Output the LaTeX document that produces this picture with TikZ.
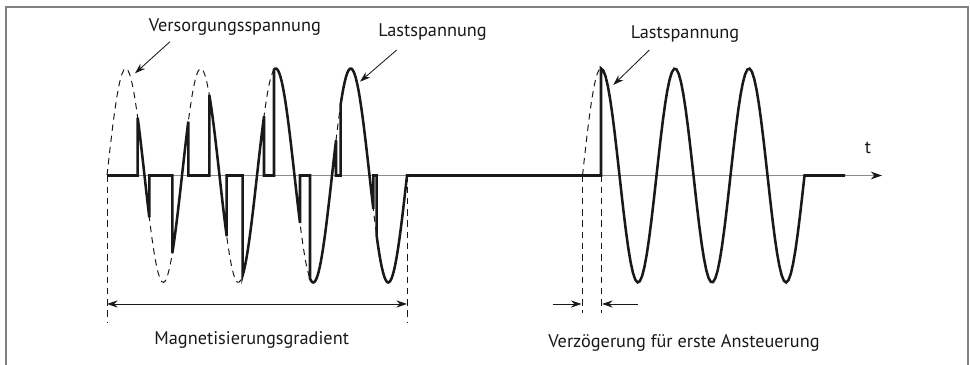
\documentclass[tikz,border=0pt]{standalone}
\usepackage{fontspec}
\setmainfont{PT Sans}
\usetikzlibrary{arrows.meta}
\definecolor{ink}{gray}{0.10}
\definecolor{soft}{gray}{0.55}
\definecolor{rim}{gray}{0.50}

\tikzset{
  declare function={mains(\t)=107*sin(4.8*\t);
                    late(\t)=107*sin(4.86486*(\t-475.5));},
  load/.style={ink,line width=1.8pt},
  supply/.style={ink,line width=0.7pt,dash pattern=on 4.5pt off 3.5pt},
  guide/.style={ink,line width=0.7pt,dash pattern=on 4.5pt off 3.5pt},
  dimen/.style={ink,line width=0.6pt},
  pointer/.style={ink,line width=0.6pt,-{Stealth[length=7.5pt,width=5pt]}},
  lbl/.style={font=\fontsize{13}{15.6}\selectfont,text=ink,anchor=base,inner sep=0pt},
}

\begin{document}
\begin{tikzpicture}[x=0.025cm,y=0.025cm]
  \useasboundingbox (-107,-189.5) rectangle (863,175.5);
  % open frame, no bottom edge
  \draw[rim,line width=1pt] (-101,-189.5) -- (-101,168.5) -- (861,168.5) -- (861,-189.5);

  % time axis
  \draw[soft,line width=1.1pt,-{Stealth[length=8pt,width=5.5pt,color=ink]}] (0,0) -- (775,0);
  \node[lbl] (t) at (761,21.5) {t};

  % mains voltage, only where the load does not follow it
  \draw[supply] plot[domain=0:300,samples=160] (\x,{mains(\x)});
  \draw[supply] plot[domain=475.5:494,samples=20] (\x,{late(\x)});

  % load voltage: growing conduction, then pause, then full waves
  \draw[load] (0,0) -- (30.7,0)
    -- plot[domain=30.7:42.3] (\x,{mains(\x)}) -- (42.3,0) -- (65.3,0)
    -- plot[domain=65.3:81.3] (\x,{mains(\x)}) -- (81.3,0) -- (102.3,0)
    -- plot[domain=102.3:119.7] (\x,{mains(\x)}) -- (119.7,0) -- (135.7,0)
    -- plot[domain=135.7:157] (\x,{mains(\x)}) -- (157,0) -- (167,0)
    -- plot[domain=167:193] (\x,{mains(\x)}) -- (193,0) -- (203,0)
    -- plot[domain=203:229] (\x,{mains(\x)}) -- (229,0) -- (233.7,0)
    -- plot[domain=233.7:266.3] (\x,{mains(\x)}) -- (266.3,0) -- (269.7,0)
    -- plot[domain=269.7:300] (\x,{mains(\x)}) -- (494,0)
    -- plot[domain=494:697.5,samples=90] (\x,{late(\x)}) -- (738,0);

  % guide lines
  \coordinate (gradL) at (0,0);
  \coordinate (gradR) at (300,0);
  \coordinate (delayL) at (475.5,0);
  \coordinate (delayR) at (494,0);
  \coordinate (gradLfoot) at (0,-146.5);
  \coordinate (gradRfoot) at (300,-146.5);
  \coordinate (delayLfoot) at (475.5,-137.5);
  \coordinate (delayRfoot) at (494,-137.5);
  \draw[guide] (gradL) -- (gradLfoot);
  \draw[guide] (gradR) -- (gradRfoot);
  \draw[guide] (delayL) -- (delayLfoot);
  \draw[guide] (delayR) -- (delayRfoot);

  % span of the soft start
  \coordinate (spanA) at (0,-128.5);
  \coordinate (spanB) at (300,-128.5);
  \draw[dimen,{Stealth[length=7.5pt,width=5pt]}-{Stealth[length=7.5pt,width=5pt]}] (spanA) -- (spanB);
  \node[lbl] (magn) at (144.7,-169.5) {Magnetisierungsgradient};

  % delay before the first firing
  \coordinate (waitA) at (445.7,-128.5);
  \coordinate (waitB) at (474.5,-128.5);
  \coordinate (waitC) at (495,-128.5);
  \coordinate (waitD) at (530.7,-128.5);
  \draw[pointer] (waitA) -- (waitB);
  \draw[pointer] (waitD) -- (waitC);
  \node[lbl] (delay) at (577,-172.2) {Verzögerung für erste Ansteuerung};

  % callouts
  \node[lbl] (vsp) at (127.8,143.8) {Versorgungsspannung};
  \coordinate (vspFrom) at (63,133.8);
  \coordinate (vspTo) at (28,102.2);
  \draw[pointer] (vspFrom) -- (vspTo);

  \node[lbl] (lsp1) at (325.5,138.8) {Lastspannung};
  \coordinate (lsp1From) at (289.7,125.5);
  \coordinate (lsp1To) at (253,93.8);
  \draw[pointer] (lsp1From) -- (lsp1To);

  \node[lbl] (lsp2) at (578,137.2) {Lastspannung};
  \coordinate (lsp2From) at (542.3,125.5);
  \coordinate (lsp2To) at (506.3,90.5);
  \draw[pointer] (lsp2From) -- (lsp2To);
\end{tikzpicture}
\end{document}
